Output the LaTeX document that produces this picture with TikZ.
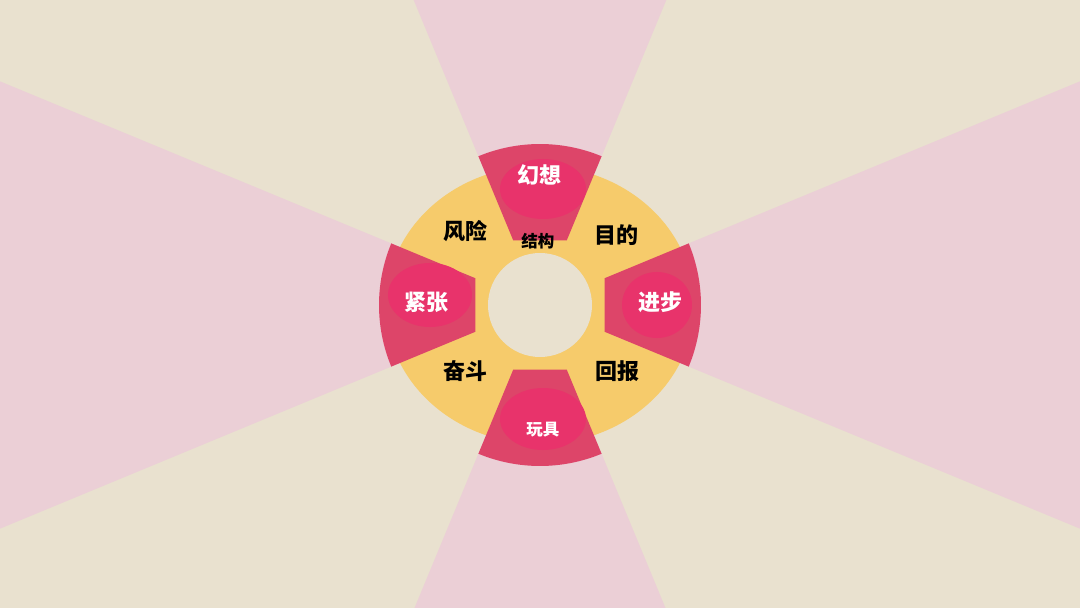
\documentclass[tikz,border=0pt]{standalone}
\usepackage{fontspec}
\newfontfamily\cjk{Noto Sans CJK SC}
\usepackage{tikz}
\usetikzlibrary{calc}
\definecolor{beige}{RGB}{233,225,207}
\definecolor{rosa}{RGB}{235,207,214}
\definecolor{gold}{RGB}{246,203,107}
\definecolor{rot}{RGB}{221,69,105}
\definecolor{pinkdot}{RGB}{232,51,107}

\tikzset{
	lab/.style={font=\cjk\bfseries\fontsize{22}{22}\selectfont, text=black, inner sep=0pt},
	wlab/.style={lab, text=white},
	small/.style={font=\cjk\bfseries\fontsize{16.5}{16.5}\selectfont}
}

\begin{document}
\begin{tikzpicture}[x=1pt,y=1pt]
	\useasboundingbox (-540,-303) rectangle (540,305);
	\fill[beige] (-540,-303) rectangle (540,305);
	
	\begin{scope}
	\clip (-540,-303) rectangle (540,305);
	\foreach \a in {0,90,180,270}
		\fill[rosa] (0,0) -- (\a-22.5:800) -- (\a+22.5:800) -- cycle;
	\end{scope}
	
	\fill[gold] (0,0) ellipse[x radius=154pt, y radius=139pt];
	\fill[beige] (0,0) circle[radius=52pt];
	
	\foreach \a in {0,90,180,270}
		\fill[rot] (\a-22.5:161) arc[start angle=\a-22.5, end angle=\a+22.5, radius=161pt] -- (\a+22.5:70) -- (\a-22.5:70) -- cycle;
	
	\coordinate [] (T) at (3,116);
	\coordinate [] (L) at (-110,10);
	\coordinate [] (R) at (117,0);
	\coordinate [] (B) at (3,-114);
	
	\fill[pinkdot] (T) ellipse[x radius=43pt, y radius=30pt];
	\fill[pinkdot] (L) ellipse[x radius=42pt, y radius=32pt];
	\fill[pinkdot] (R) ellipse[x radius=35pt, y radius=33pt];
	\fill[pinkdot] (B) ellipse[x radius=43pt, y radius=31pt];
	
	\node[wlab] (fantasy) at (0,130) {幻想};
	\node[wlab] (tension) at (-113,3) {紧张};
	\node[wlab] (progress) at (121,3) {进步};
	\node[wlab,small] (toy) at (3,-125) {玩具};
	
	\node[lab] (risk) at (-74,74) {风险};
	\node[lab] (goal) at (77,70) {目的};
	\node[lab] (struggle) at (-74,-66) {奋斗};
	\node[lab] (reward) at (78,-66) {回报};
	\node[lab,small] (structure) at (-2,64) {结构};
	
\end{tikzpicture}
\end{document}
